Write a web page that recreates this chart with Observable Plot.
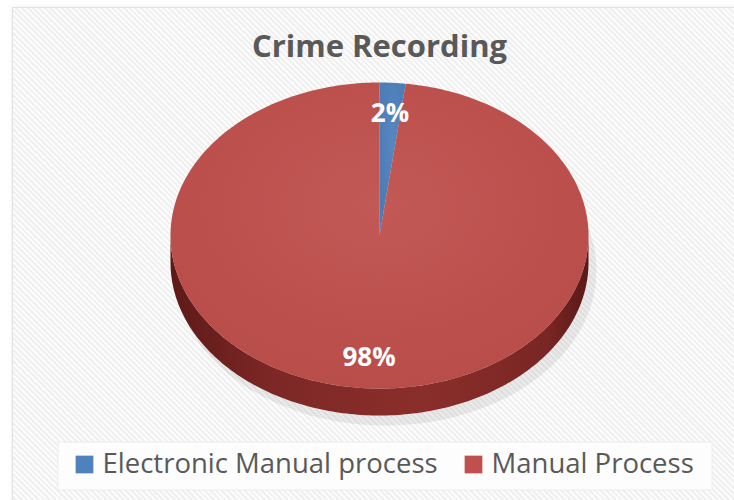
<!DOCTYPE html>
<html>
<head>
<meta charset="utf-8">
<script src="https://cdn.jsdelivr.net/npm/d3@7"></script>
<script src="https://cdn.jsdelivr.net/npm/@observablehq/plot@0.6"></script>
<style>
  html, body { margin: 0; padding: 0; background: #ffffff; }
  #wrap { position: relative; width: 734px; height: 500px; overflow: hidden; }
  #bg { position: absolute; left: 12px; top: 7px; width: 724px; height: 495px;
        border: 1px solid #e2e2e2; box-sizing: border-box;
        background-color: #f5f5f5;
        background-image: repeating-linear-gradient(45deg, rgba(255,255,255,0.7) 0 2px, rgba(235,235,235,0.5) 2px 4px);
        box-shadow: 0 0 4px rgba(0,0,0,0.08); }
  #chart { position: absolute; left: 0; top: 0; }
</style>
</head>
<body>
<div id="wrap"><div id="bg"></div><div id="chart"></div></div>
<script>
const title = "Crime Recording";
const categories = ["Electronic Manual process", "Manual Process"];
const shares = [2, 98];
const labels = ["2%", "98%"];
const colors = ["#4f81bd", "#c0504d"];

// pie geometry
const cx = 379, cy = 235, rx = 209, ry = 153, depth = 27;
const total = d3.sum(shares);
const pt = (a, r = 1, dy = 0) => ({x: cx + rx * r * Math.sin(a), y: cy - ry * r * Math.cos(a) + dy});
const rad = d => d * Math.PI / 180;

let acc = 0;
const slices = shares.map((v, i) => {
  const a0 = acc / total * 2 * Math.PI;
  acc += v;
  const a1 = acc / total * 2 * Math.PI;
  return {i, a0, a1, cat: categories[i], color: colors[i], label: labels[i]};
});

// top faces
const topPts = [];
for (const s of slices) {
  topPts.push({id: "t" + s.i, color: s.color, ...pt(0, 0)});
  const n = Math.max(2, Math.ceil((s.a1 - s.a0) / rad(1)));
  for (let k = 0; k <= n; k++) topPts.push({id: "t" + s.i, color: s.color, ...pt(s.a0 + (s.a1 - s.a0) * k / n)});
}
// side walls (visible front half: 90deg..270deg)
const sidePts = [];
for (const s of slices) {
  const b0 = Math.max(s.a0, Math.PI / 2), b1 = Math.min(s.a1, 3 * Math.PI / 2);
  if (b1 <= b0) continue;
  const n = Math.max(2, Math.ceil((b1 - b0) / rad(1)));
  for (let k = 0; k <= n; k++) sidePts.push({id: "s" + s.i, ...pt(b0 + (b1 - b0) * k / n)});
  for (let k = n; k >= 0; k--) sidePts.push({id: "s" + s.i, ...pt(b0 + (b1 - b0) * k / n, 1, depth)});
}
// shadow
const shadowPts = d3.range(0, 361, 2).map(d => ({x: cx + 6 + (rx + 2) * Math.sin(rad(d)), y: cy + depth + 8 - (ry + 2) * Math.cos(rad(d))}));

const labelPts = slices.map(s => ({...pt((s.a0 + s.a1) / 2, 0.8), label: s.label}));

const legend = [
  {cat: categories[0], color: colors[0], x: 84, tx: 102},
  {cat: categories[1], color: colors[1], x: 473, tx: 491}
];

const plot = Plot.plot({
  width: 734, height: 500,
  margin: 0,
  x: {domain: [0, 734], range: [0, 734], axis: null},
  y: {domain: [0, 500], range: [0, 500], axis: null},
  color: {type: "identity"},
  style: {background: "transparent", overflow: "visible"},
  marks: [
    // legend box
    Plot.rect([{x1: 58, x2: 712, y1: 442, y2: 490}], {x1: "x1", x2: "x2", y1: "y1", y2: "y2", fill: "#fdfdfd", stroke: "#ececec"}),
    Plot.line(shadowPts, {x: "x", y: "y", fill: "#000", fillOpacity: 0.07, stroke: "none", curve: "linear-closed"}),
    Plot.line(sidePts, {x: "x", y: "y", z: "id", fill: "url(#sideGrad)", stroke: "none"}),
    Plot.line(topPts, {x: "x", y: "y", z: "id", fill: "color", stroke: "none"}),
    Plot.line(topPts, {x: "x", y: "y", z: "id", fill: "url(#topGrad)", stroke: "none"}),
    Plot.text(labelPts, {x: "x", y: "y", text: "label", fill: "#ffffff", fontSize: 26, fontWeight: "bold", fontFamily: "Open Sans"}),
    Plot.text([title], {x: 379, y: 47, text: d => d, fill: "#595959", fontSize: 31, fontWeight: "bold", fontFamily: "Open Sans"}),
    Plot.dot(legend, {x: "x", y: 464, symbol: "square", r: 10, fill: "color", stroke: "none"}),
    Plot.text(legend, {x: "tx", y: 464, text: "cat", textAnchor: "start", fill: "#595959", fontSize: 27.5, fontFamily: "Open Sans"})
  ]
});

const svg = d3.select(plot);
const defs = svg.insert("defs", ":first-child");
const sg = defs.append("linearGradient").attr("id", "sideGrad").attr("x1", "0").attr("x2", "1").attr("y1", "0").attr("y2", "0");
sg.append("stop").attr("offset", "0%").attr("stop-color", "#5e1a18");
sg.append("stop").attr("offset", "25%").attr("stop-color", "#7d2826");
sg.append("stop").attr("offset", "60%").attr("stop-color", "#8a2e2b");
sg.append("stop").attr("offset", "90%").attr("stop-color", "#7a2624");
sg.append("stop").attr("offset", "100%").attr("stop-color", "#5a1917");
const tg = defs.append("radialGradient").attr("id", "topGrad").attr("cx", "50%").attr("cy", "40%").attr("r", "60%");
tg.append("stop").attr("offset", "0%").attr("stop-color", "#ffffff").attr("stop-opacity", 0.05);
tg.append("stop").attr("offset", "100%").attr("stop-color", "#000000").attr("stop-opacity", 0.04);

document.getElementById("chart").appendChild(plot);
</script>
</body>
</html>
